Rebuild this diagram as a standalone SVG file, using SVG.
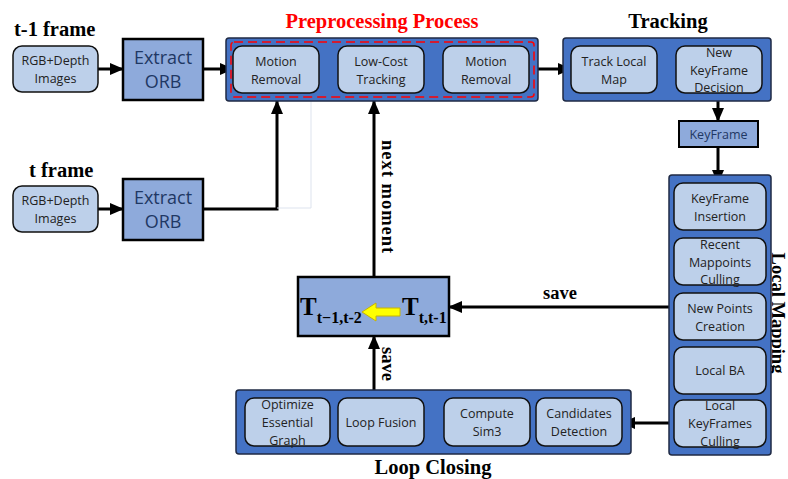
<svg xmlns="http://www.w3.org/2000/svg" width="788" height="479" viewBox="0 0 788 479">
<defs>
<marker id="ah" markerWidth="14" markerHeight="12" refX="13" refY="6" orient="auto" markerUnits="userSpaceOnUse">
<path d="M0,0 L14,6 L0,12 Z" fill="#000"/>
</marker>
<style>
.outer{fill:#4472c4;stroke:#1f2a44;stroke-width:1.5}
.inner{fill:#bdd0ea;stroke:#111;stroke-width:1.5}
.orb{fill:#8eaadb;stroke:#000;stroke-width:2.5}
.t{font-family:"Open Sans","Noto Sans",sans-serif;font-size:12.5px;fill:#222;text-anchor:middle}
.to{font-family:"Open Sans","Noto Sans",sans-serif;font-size:18px;fill:#1f3864;text-anchor:middle}
.h{font-family:"Liberation Serif",serif;font-weight:bold;font-size:20.5px;fill:#000}
.lbl{font-family:"Liberation Serif",serif;font-weight:bold;font-size:18.5px;fill:#000}
.c{fill:none;stroke:#000;stroke-width:3}
.tt{font-family:"Liberation Serif",serif;font-weight:bold;font-size:25px;fill:#000}
.ts{font-size:16px}
</style>
</defs>

<g id="titles">
<text class="h" x="14" y="36">t-1 frame</text>
<text class="h" x="29" y="177">t frame</text>
<text class="h" x="382" y="28" text-anchor="middle" style="fill:#ff0000">Preprocessing Process</text>
<text class="h" x="668" y="28" text-anchor="middle">Tracking</text>
<text class="h" x="433" y="474" text-anchor="middle">Loop Closing</text>
<text class="h" x="0" y="0" text-anchor="middle" transform="translate(772,313) rotate(90)" style="font-size:18.5px">Local Mapping</text>
</g>

<g id="connectors">
<line class="c" x1="98" y1="69" x2="123" y2="69" marker-end="url(#ah)"/>
<line class="c" x1="203" y1="69" x2="233" y2="69" marker-end="url(#ah)"/>
<line class="c" x1="319" y1="69" x2="338" y2="69" marker-end="url(#ah)"/>
<line class="c" x1="424" y1="69" x2="443" y2="69" marker-end="url(#ah)"/>
<line class="c" x1="538" y1="69" x2="571" y2="69" marker-end="url(#ah)"/>
<line class="c" x1="718" y1="93" x2="718" y2="121" marker-end="url(#ah)"/>
<line class="c" x1="718" y1="147" x2="718" y2="183" marker-end="url(#ah)"/>
<line class="c" x1="98" y1="209" x2="123" y2="209" marker-end="url(#ah)"/>
<polyline class="c" points="203,209 277,209 277,101" marker-end="url(#ah)"/>
<polyline points="277,208 311,208 311,101" fill="none" stroke="#dde3ee" stroke-width="1"/>
<line class="c" x1="374" y1="277" x2="374" y2="101" marker-end="url(#ah)"/>
<line class="c" x1="669" y1="307" x2="449" y2="307" marker-end="url(#ah)"/>
<line class="c" x1="374" y1="390" x2="374" y2="336" marker-end="url(#ah)"/>
<line class="c" x1="669" y1="423" x2="622" y2="423" marker-end="url(#ah)"/>
<text class="lbl" x="0" y="0" transform="translate(382,140) rotate(90)" style="letter-spacing:1px">next moment</text>
<text class="lbl" x="560" y="299" text-anchor="middle">save</text>
<text class="lbl" x="0" y="0" transform="translate(382,347) rotate(90)">save</text>
</g>

<g id="rgb1"><rect class="inner" x="13" y="46" width="85" height="46" rx="9"/><text class="t" x="55.5" y="65">RGB+Depth</text><text class="t" x="55.5" y="83">Images</text></g>
<g id="orb1"><rect class="orb" x="123" y="39" width="80" height="61"/><text class="to" x="163" y="64">Extract</text><text class="to" x="163" y="88">ORB</text></g>
<g id="rgb2"><rect class="inner" x="13" y="186" width="85" height="46" rx="9"/><text class="t" x="55.5" y="205">RGB+Depth</text><text class="t" x="55.5" y="223">Images</text></g>
<g id="orb2"><rect class="orb" x="123" y="179" width="80" height="61"/><text class="to" x="163" y="204">Extract</text><text class="to" x="163" y="228">ORB</text></g>

<g id="preprocessing">
<rect class="outer" x="226" y="38" width="312" height="63" rx="3"/>
<rect x="231" y="42" width="303" height="55" rx="3" fill="none" stroke="#ff0000" stroke-width="1.5" stroke-dasharray="9,5"/>
</g>
<g id="motion1"><rect class="inner" x="233" y="46" width="86" height="47" rx="9"/><text class="t" x="276" y="66">Motion</text><text class="t" x="276" y="84">Removal</text></g>
<g id="lowcost"><rect class="inner" x="338" y="46" width="86" height="47" rx="9"/><text class="t" x="381" y="66">Low-Cost</text><text class="t" x="381" y="84">Tracking</text></g>
<g id="motion2"><rect class="inner" x="443" y="46" width="86" height="47" rx="9"/><text class="t" x="486" y="66">Motion</text><text class="t" x="486" y="84">Removal</text></g>

<g id="tracking"><rect class="outer" x="563" y="38" width="208" height="63" rx="3"/></g>
<g id="tracklocal"><rect class="inner" x="571" y="46" width="86" height="47" rx="9"/><text class="t" x="614" y="66">Track Local</text><text class="t" x="614" y="84">Map</text></g>
<g id="newkf"><rect class="inner" x="676" y="46" width="86" height="47" rx="9"/><text class="t" x="719" y="57">New</text><text class="t" x="719" y="75">KeyFrame</text><text class="t" x="719" y="92">Decision</text></g>

<g id="keyframe"><rect x="679" y="121" width="79" height="26" fill="#8eaadb" stroke="#000" stroke-width="2"/><text class="t" x="718.5" y="139" style="fill:#1f3864">KeyFrame</text></g>

<g id="localmapping"><rect class="outer" x="669" y="175" width="102" height="280" rx="3"/></g>
<g id="kfinsert"><rect class="inner" x="674" y="183" width="92" height="47" rx="9"/><text class="t" x="720" y="203">KeyFrame</text><text class="t" x="720" y="221">Insertion</text></g>
<g id="recent"><rect class="inner" x="674" y="238" width="92" height="47" rx="9"/><text class="t" x="720" y="249">Recent</text><text class="t" x="720" y="267">Mappoints</text><text class="t" x="720" y="284">Culling</text></g>
<g id="newpoints"><rect class="inner" x="674" y="293" width="92" height="47" rx="9"/><text class="t" x="720" y="313">New Points</text><text class="t" x="720" y="331">Creation</text></g>
<g id="localba"><rect class="inner" x="674" y="347" width="92" height="47" rx="9"/><text class="t" x="720" y="375">Local BA</text></g>
<g id="localkf"><rect class="inner" x="674" y="400" width="92" height="47" rx="9"/><text class="t" x="720" y="410">Local</text><text class="t" x="720" y="428">KeyFrames</text><text class="t" x="720" y="446">Culling</text></g>

<g id="loopclosing"><rect class="outer" x="236" y="390" width="395" height="64" rx="3"/></g>
<g id="optimize"><rect class="inner" x="245" y="398" width="85" height="48" rx="9"/><text class="t" x="287.5" y="409">Optimize</text><text class="t" x="287.5" y="427">Essential</text><text class="t" x="287.5" y="445">Graph</text></g>
<g id="loopfusion"><rect class="inner" x="338" y="398" width="86" height="48" rx="9"/><text class="t" x="381" y="427">Loop Fusion</text></g>
<g id="sim3"><rect class="inner" x="444" y="398" width="86" height="48" rx="9"/><text class="t" x="487" y="418">Compute</text><text class="t" x="487" y="436">Sim3</text></g>
<g id="candidates"><rect class="inner" x="536" y="398" width="86" height="48" rx="9"/><text class="t" x="579" y="418">Candidates</text><text class="t" x="579" y="436">Detection</text></g>

<g id="tbox">
<rect x="298" y="277" width="151" height="59" fill="#8eaadb" stroke="#000" stroke-width="2.5"/>
<text class="tt" x="300" y="315">T<tspan class="ts" dy="8">t−1,t-2</tspan></text>
<polygon points="362,312 376,303 376,308 400,308 400,316 376,316 376,321" fill="#ffff00" stroke="#c8b400" stroke-width="1"/>
<text class="tt" x="402" y="315">T<tspan class="ts" dy="8">t,t-1</tspan></text>
</g>
</svg>
